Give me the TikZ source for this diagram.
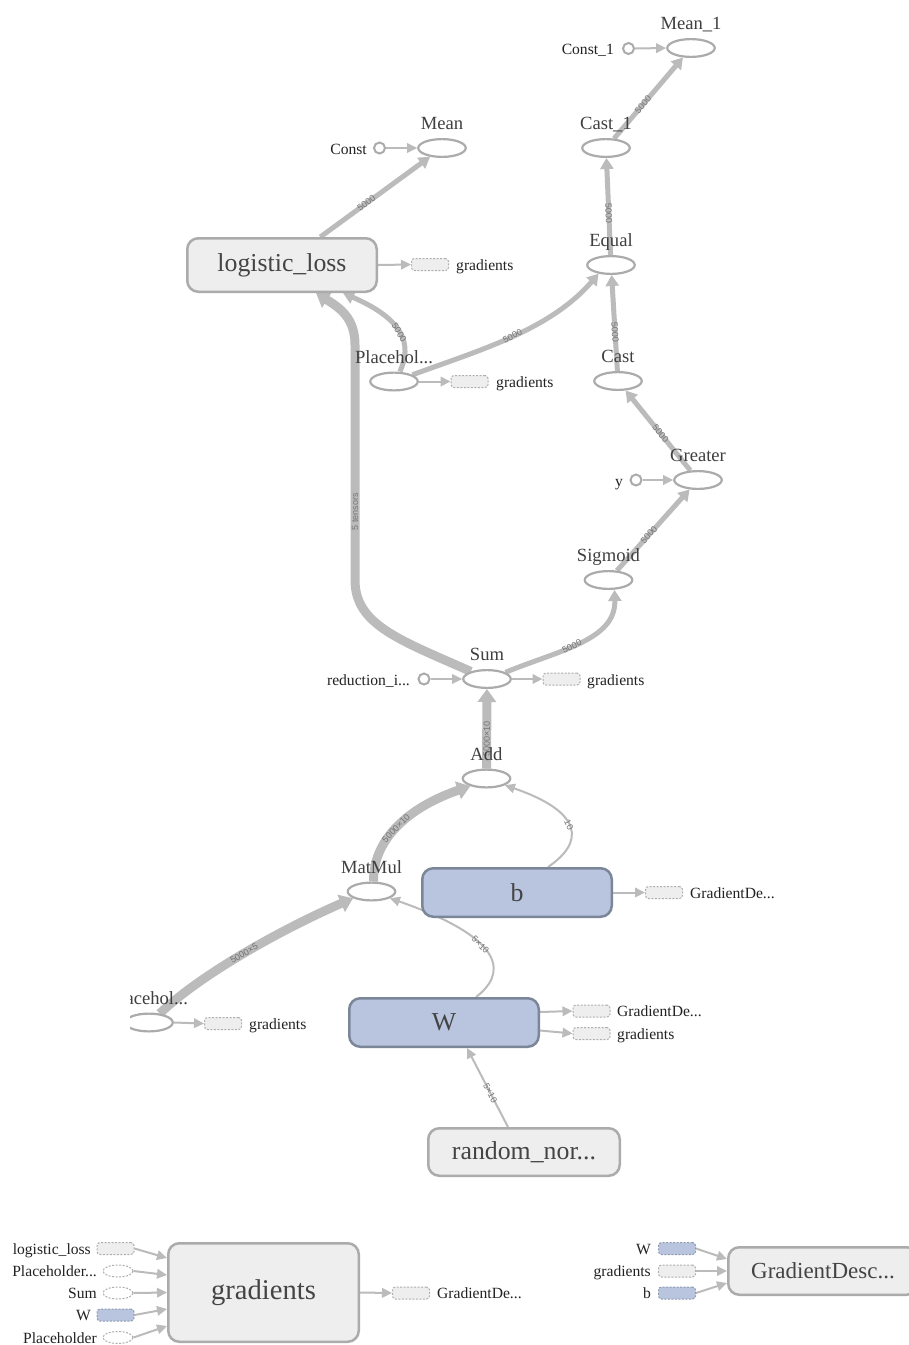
\documentclass[tikz,border=0pt]{standalone}
\usepackage{fontspec}
\setmainfont{Liberation Serif}
\newfontfamily\edgelabelfont{Liberation Sans}
\usetikzlibrary{shapes.geometric,arrows.meta}
\pgfdeclarelayer{paper}
\pgfdeclarelayer{edges}
\pgfsetlayers{paper,edges,main}

\definecolor{edgegray}{HTML}{BBBBBB}
\definecolor{edgetext}{HTML}{747474}
\definecolor{opline}{HTML}{ABABAB}
\definecolor{metafill}{HTML}{EEEEEE}
\definecolor{metaline}{HTML}{ABABAB}
\definecolor{varfill}{HTML}{B9C5DE}
\definecolor{varline}{HTML}{7B8799}
\definecolor{ghostline}{HTML}{AEAEAE}
\definecolor{ghostvarline}{HTML}{8E9AB0}
\definecolor{titletext}{HTML}{3F3F3F}
\definecolor{smalltext}{HTML}{222222}
\definecolor{boxtext}{HTML}{444444}

\tikzset{
  opnode/.style={ellipse, draw=opline, line width=2.2pt, fill=white,
    minimum width=47.5pt, minimum height=17.8pt, inner sep=0pt},
  constnode/.style={circle, draw=opline, line width=2pt, fill=white,
    minimum size=11pt, inner sep=0pt},
  metanode/.style={rectangle, rounded corners=11pt, draw=metaline, line width=2.5pt,
    fill=metafill, inner sep=0pt, text=boxtext},
  varnode/.style={metanode, fill=varfill, draw=varline},
  ghostbox/.style={rectangle, rounded corners=3pt, draw=ghostline,
    dash pattern=on 2pt off 1.5pt, line width=1pt, fill=metafill,
    minimum width=37pt, minimum height=12pt, inner sep=0pt},
  ghostvar/.style={ghostbox, fill=varfill, draw=ghostvarline},
  ghostop/.style={ellipse, draw=ghostline, dash pattern=on 2pt off 1.5pt,
    line width=1pt, fill=white, minimum width=30pt, minimum height=12pt, inner sep=0pt},
  optitle/.style={anchor=base, inner sep=0pt, text=titletext,
    font=\fontsize{18.6}{20}\selectfont},
  sidelabel/.style={anchor=base west, inner sep=0pt, text=smalltext,
    font=\fontsize{15.6}{18}\selectfont},
  sidelabelL/.style={sidelabel, anchor=base east},
  flowthin/.style={draw=edgegray, line width=2pt, -{Triangle[length=10pt,width=9.5pt]}},
  flowmid/.style={draw=edgegray, line width=5pt, -{Triangle[length=11pt,width=13pt]}},
  flowwide/.style={draw=edgegray, line width=9pt, -{Triangle[length=13pt,width=18pt]}},
  edgelabel/.style={sloped, inner sep=0pt, text=edgetext,
    font=\edgelabelfont\fontsize{9}{10}\selectfont},
}

\begin{document}
\begin{tikzpicture}[x=1pt,y=-1pt]
\useasboundingbox (0,0) rectangle (909,1345);
\begin{pgfonlayer}{paper}
  \fill[white] (0,0) rectangle (909,1345);
\end{pgfonlayer}
\clip (0,0) rectangle (909,1345);

% ---------- operation nodes ----------
\node[opnode] (mean1) at (691,48) {};
\node[optitle] (mean1-t) at (691,29.5) {Mean\_1};
\node[constnode] (const1) at (628.5,48.5) {};
\node[sidelabelL] (const1-t) at (614,54) {Const\_1};

\node[opnode] (mean) at (442,148) {};
\node[optitle] (mean-t) at (442,129.5) {Mean};
\node[constnode] (const) at (379.5,148) {};
\node[sidelabelL] (const-t) at (367,154) {Const};

\node[opnode] (cast1) at (606,148) {};
\node[optitle] (cast1-t) at (606,129.5) {Cast\_1};

\node[metanode, minimum width=189.5pt, minimum height=53.5pt,
  font=\fontsize{25.8}{30}\selectfont] (loss) at (282,265) {logistic\_loss};
\node[ghostbox] (lossg) at (430,264.5) {};
\node[sidelabel] (lossg-t) at (456,270) {gradients};

\node[opnode] (equal) at (611,265) {};
\node[optitle] (equal-t) at (611,246.5) {Equal};

\node[opnode] (ph) at (394,381.5) {};
\node[optitle] (ph-t) at (394,363) {Placehol...};
\node[ghostbox] (phg) at (469.5,381.5) {};
\node[sidelabel] (phg-t) at (496,387) {gradients};

\node[opnode] (cast) at (618,381) {};
\node[optitle] (cast-t) at (618,362.5) {Cast};

\node[opnode] (greater) at (698,480) {};
\node[optitle] (greater-t) at (698,461.5) {Greater};
\node[constnode] (yc) at (636,480) {};
\node[sidelabelL] (yc-t) at (623,486) {y};

\node[opnode] (sigmoid) at (608.5,580) {};
\node[optitle] (sigmoid-t) at (608.5,561.5) {Sigmoid};

\node[opnode] (sum) at (487,679) {};
\node[optitle] (sum-t) at (487,660.5) {Sum};
\node[constnode] (red) at (424,679) {};
\node[sidelabelL] (red-t) at (410,685) {reduction\_i...};
\node[ghostbox] (sumg) at (561.5,679) {};
\node[sidelabel] (sumg-t) at (587,685) {gradients};

\node[opnode] (add) at (486.5,778.5) {};
\node[optitle] (add-t) at (486.5,760) {Add};

\node[opnode] (matmul) at (371.5,891.5) {};
\node[optitle] (matmul-t) at (371.5,873) {MatMul};

\node[varnode, minimum width=189.5pt, minimum height=48.5pt,
  font=\fontsize{25.8}{30}\selectfont] (bvar) at (517,892.5) {b};
\node[ghostbox] (bg) at (664,892.5) {};
\node[sidelabel] (bg-t) at (690,898.5) {GradientDe...};

\node[varnode, minimum width=189.5pt, minimum height=48.5pt,
  font=\fontsize{25.8}{30}\selectfont] (wvar) at (444,1022.5) {W};
\node[ghostbox] (wg1) at (591.5,1011) {};
\node[sidelabel] (wg1-t) at (617,1016.5) {GradientDe...};
\node[ghostbox] (wg2) at (591.5,1033.5) {};
\node[sidelabel] (wg2-t) at (617,1039) {gradients};

\begin{scope}
  \clip (130,985) rectangle (300,1050);
  \node[opnode] (ph2) at (149,1022.5) {};
  \node[optitle] (ph2-t) at (149,1004) {Placehol...};
\end{scope}
\node[ghostbox] (ph2g) at (223,1023.5) {};
\node[sidelabel] (ph2g-t) at (249,1029) {gradients};

\node[metanode, minimum width=191.5pt, minimum height=47.5pt,
  font=\fontsize{25.8}{30}\selectfont] (rn) at (524,1152) {random\_nor...};

% ---------- gradients group ----------
\node[metanode, minimum width=190.5pt, minimum height=98.5pt,
  font=\fontsize{28.6}{32}\selectfont] (gradbox) at (263.5,1292.5) {gradients};
\node[ghostbox] (gin1) at (115.5,1248.5) {};
\node[sidelabelL] (gin1-t) at (91,1254) {logistic\_loss};
\node[ghostop] (gin2) at (118,1271) {};
\node[sidelabelL] (gin2-t) at (97,1276.5) {Placeholder...};
\node[ghostop] (gin3) at (118,1293) {};
\node[sidelabelL] (gin3-t) at (97,1298.5) {Sum};
\node[ghostvar] (gin4) at (115.5,1315) {};
\node[sidelabelL] (gin4-t) at (91,1320.5) {W};
\node[ghostop] (gin5) at (118,1337.5) {};
\node[sidelabelL] (gin5-t) at (97,1343) {Placeholder};
\node[ghostbox] (gout) at (411,1293) {};
\node[sidelabel] (gout-t) at (437,1298.5) {GradientDe...};

% ---------- gradient descent group ----------
\node[metanode, minimum width=189.5pt, minimum height=47.5pt,
  font=\fontsize{23}{27}\selectfont] (gd) at (823,1271) {GradientDesc...};
\node[ghostvar] (gdw) at (677,1248.5) {};
\node[sidelabelL] (gdw-t) at (651,1254) {W};
\node[ghostbox] (gdg) at (677,1271) {};
\node[sidelabelL] (gdg-t) at (651,1276.5) {gradients};
\node[ghostvar] (gdb) at (677,1293) {};
\node[sidelabelL] (gdb-t) at (651,1298.5) {b};

% ---------- connectors ----------
\begin{pgfonlayer}{edges}
  % constants and summary outputs
  \draw[flowthin] (const1.east) -- (mean1.west);
  \draw[flowthin] (const.east) -- (mean.west);
  \draw[flowthin] (yc.east) -- (greater.west);
  \draw[flowthin] (red.east) -- (sum.west);
  \draw[flowthin] (loss.east) -- (lossg.west);
  \draw[flowthin] (ph.east) -- (phg.west);
  \draw[flowthin] (sum.east) -- (sumg.west);
  \draw[flowthin] (bvar.east) -- (bg.west);
  \draw[flowthin] ([yshift=10.5pt]wvar.east) -- (wg1.west);
  \draw[flowthin] ([yshift=-8pt]wvar.east) -- (wg2.west);
  \draw[flowthin] (ph2.east) -- (ph2g.west);

  % accuracy branch
  \draw[flowmid] (cast1) -- node[edgelabel, pos=0.42] {5000} (mean1);
  \draw[flowmid] (equal) -- node[edgelabel, pos=0.43] {5000} (cast1);
  \draw[flowmid] (cast) -- node[edgelabel, pos=0.4] {5000} (equal);
  \draw[flowmid] (greater) -- node[edgelabel, pos=0.46] {5000} (cast);
  \draw[flowmid] (sigmoid) -- node[edgelabel, pos=0.44] {5000} (greater);
  \draw[flowmid] (sum.20) .. controls (560,650) and (616,640) ..
    node[edgelabel, pos=0.43] {5000} ([xshift=6pt]sigmoid.south);

  % loss branch
  \draw[flowmid] (loss) -- node[edgelabel, pos=0.42] {5000} (mean);
  \draw[flowmid] ([xshift=6pt]ph.north) .. controls (412,345) and (405,320) ..
    node[edgelabel, pos=0.5] {5000} ([xshift=61pt]loss.south);
  \draw[flowmid] (ph.20) .. controls (480,350) and (550,330) ..
    node[edgelabel, pos=0.5] {5000} (equal.215);
  \draw[flowwide] (sum.155) .. controls (400,640) and (355,625) .. (355,580)
    -- node[edgelabel, pos=0.29] {5 tensors} (355,345)
    .. controls (355,318) and (340,308) .. ([xshift=34pt]loss.south);

  % model
  \draw[flowwide] (add) -- node[edgelabel, pos=0.37] {5000×10} (sum);
  \draw[flowwide] ([xshift=2pt]matmul.north) .. controls (373,835) and (415,805) ..
    node[edgelabel, pos=0.45] {5000×10} (add.205);
  \draw[flowthin] ([xshift=31pt]bvar.north) .. controls (585,842) and (583,812) ..
    node[edgelabel, pos=0.52] {10} (add.-20);
  \draw[flowthin] ([xshift=32pt]wvar.north) .. controls (505,975) and (510,940) ..
    node[edgelabel, pos=0.6] {5×10} (matmul.-20);
  \draw[flowwide] (ph2.40) .. controls (200,975) and (280,930) ..
    node[edgelabel, pos=0.5] {5000×5} (matmul.200);
  \draw[flowthin] ([xshift=-16pt]rn.north) -- node[edgelabel, pos=0.43] {5×10}
    ([xshift=23pt]wvar.south);

  % gradients inputs and output
  \draw[flowthin] (gin1.east) -- ([yshift=34.5pt]gradbox.west);
  \draw[flowthin] (gin2.east) -- ([yshift=17.5pt]gradbox.west);
  \draw[flowthin] (gin3.east) -- (gradbox.west);
  \draw[flowthin] (gin4.east) -- ([yshift=-16.5pt]gradbox.west);
  \draw[flowthin] (gin5.east) -- ([yshift=-33.5pt]gradbox.west);
  \draw[flowthin] (gradbox.east) -- (gout.west);

  % gradient descent inputs
  \draw[flowthin] (gdw.east) -- ([yshift=12pt]gd.west);
  \draw[flowthin] (gdg.east) -- (gd.west);
  \draw[flowthin] (gdb.east) -- ([yshift=-12pt]gd.west);
\end{pgfonlayer}
\end{tikzpicture}
\end{document}
